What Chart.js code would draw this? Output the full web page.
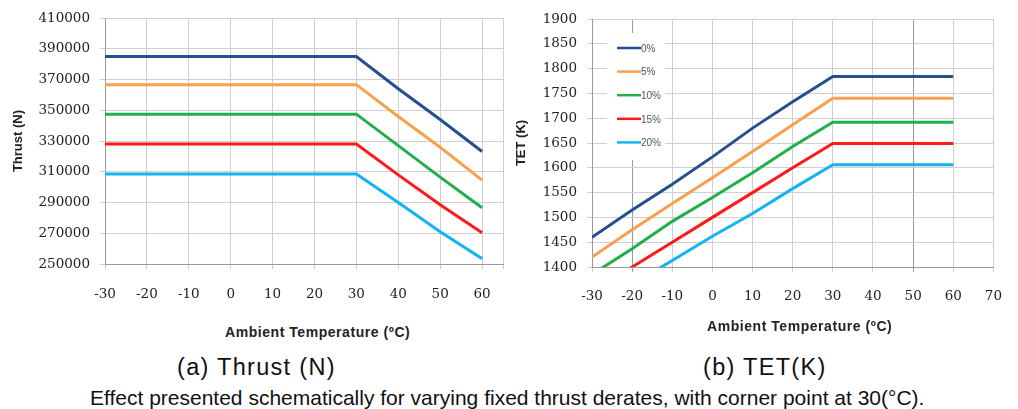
<!DOCTYPE html>
<html>
<head>
<meta charset="utf-8">
<script src="https://cdn.jsdelivr.net/npm/chart.js@4.4.1/dist/chart.umd.min.js"></script>
<style>
  body { margin: 0; background: #fff; width: 1018px; height: 409px; position: relative; overflow: hidden; font-family: "Liberation Sans", Arial, sans-serif; }
  canvas { position: absolute; top: 0; }
  #thrust { left: 0; }
  #tet { left: 510px; }
  .xt { position: absolute; font: bold 14px "Liberation Sans", Arial, sans-serif; letter-spacing: 0.55px; color: #222; white-space: nowrap; }
  .cap { position: absolute; top: 354px; font-size: 23.5px; letter-spacing: 1.3px; color: #111; white-space: nowrap; }
  #note { position: absolute; top: 386px; left: 90px; font-size: 21px; color: #111; white-space: nowrap; }
</style>
</head>
<body>
<canvas id="thrust" width="520" height="310"></canvas>
<canvas id="tet" width="508" height="310"></canvas>
<div class="xt" style="left:225px; top:324px">Ambient Temperature (ºC)</div>
<div class="xt" style="left:707px; top:318px">Ambient Temperature (ºC)</div>
<div class="cap" style="left:177px">(a) Thrust (N)</div>
<div class="cap" style="left:703px">(b) TET(K)</div>
<div id="note">Effect presented schematically for varying fixed thrust derates, with corner point at 30(°C).</div>
<script>
const temps = [-30, -20, -10, 0, 10, 20, 30, 40, 50, 60];
const derates = ["0%", "5%", "10%", "15%", "20%"];
const colors = ["#24508f", "#f9a04e", "#1fb04a", "#ff1a1a", "#14b4f0"];

// thrust (N), flat up to the 30 C corner point
const thrust0 = [385000, 385000, 385000, 385000, 385000, 385000, 385000, 364000, 344000, 323200];
const thrust5 = [366700, 366700, 366700, 366700, 366700, 366700, 366700, 346000, 326000, 304600];
const thrust10 = [347500, 347500, 347500, 347500, 347500, 347500, 347500, 327000, 306500, 286600];
const thrust15 = [328000, 328000, 328000, 328000, 328000, 328000, 328000, 308000, 288500, 270300];
const thrust20 = [308600, 308600, 308600, 308600, 308600, 308600, 308600, 290000, 271000, 253500];

// turbine entry temperature (K)
const tet0 = [1460, 1515, 1567, 1622, 1680, 1733, 1784, 1784, 1784, 1784];
const tet5 = [1420, 1475, 1528, 1580, 1633, 1687, 1740, 1740, 1740, 1740];
const tet10 = [1385, 1437, 1492, 1540, 1590, 1643, 1692, 1692, 1692, 1692];
const tet15 = [1350, 1400, 1450, 1500, 1550, 1600, 1649, 1649, 1649, 1649];
const tet20 = [1315, 1365, 1413, 1462, 1508, 1558, 1606, 1606, 1606, 1606];

const thrustTicks = [250000, 270000, 290000, 310000, 330000, 350000, 370000, 390000, 410000];
const thrustXTicks = [-30, -20, -10, 0, 10, 20, 30, 40, 50, 60, 65];
const tetTicks = [1400, 1450, 1500, 1550, 1600, 1650, 1700, 1750, 1800, 1850, 1900];
const tetXTicks = [-30, -20, -10, 0, 10, 20, 30, 40, 50, 60, 70];

const tickFont = { family: '"DejaVu Serif", serif', size: 13.5 };

function makeSets(series) {
  return series.map((s, i) => ({
    label: derates[i],
    data: temps.map((t, j) => ({ x: t, y: s[j] })),
    borderColor: colors[i],
    backgroundColor: colors[i],
    borderWidth: 3,
    pointRadius: 0,
    tension: 0,
  }));
}

function fixTicks(list) {
  return function (scale) {
    scale.ticks = list.map((v) => ({ value: v }));
  };
}

const legendBox = {
  id: "legendBox",
  afterDatasetsDraw(chart) {
    const ctx = chart.ctx;
    ctx.save();
    ctx.fillStyle = "#fff";
    ctx.fillRect(97, 33, 58, 127);
    ctx.font = '10px "Liberation Sans", Arial, sans-serif';
    ctx.textBaseline = "middle";
    chart.data.datasets.forEach((ds, i) => {
      const y = 48 + i * 23.6;
      ctx.strokeStyle = ds.borderColor;
      ctx.lineWidth = 2.5;
      ctx.beginPath();
      ctx.moveTo(107, y);
      ctx.lineTo(131, y);
      ctx.stroke();
      ctx.fillStyle = "#555";
      ctx.fillText(ds.label, 131, y + 1);
    });
    ctx.restore();
  },
};

new Chart(document.getElementById("thrust"), {
  type: "line",
  data: { datasets: makeSets([thrust0, thrust5, thrust10, thrust15, thrust20]) },
  options: {
    responsive: false,
    animation: false,
    layout: { autoPadding: false, padding: { top: 16, right: 10, bottom: 0, left: 0 } },
    plugins: { legend: { display: false }, tooltip: { enabled: false } },
    scales: {
      x: {
        type: "linear",
        min: -30,
        max: 65,
        afterBuildTicks: fixTicks(thrustXTicks),
        afterFit: (s) => { s.height = 46; },
        grid: { color: "#cfcfcf", tickLength: 5 },
        border: { color: "#9a9a9a" },
        ticks: {
          font: tickFont,
          color: "#222",
          padding: 17,
          maxRotation: 0,
          autoSkip: false,
          callback: (v) => (v > 60 ? "" : String(v)),
        },
      },
      y: {
        min: 250000,
        max: 410000,
        afterBuildTicks: fixTicks(thrustTicks),
        afterFit: (s) => { s.width = 105; },
        grid: { color: "#cfcfcf", tickLength: 5 },
        border: { color: "#9a9a9a" },
        ticks: { font: tickFont, color: "#222", padding: 10, callback: (v) => String(v) },
        title: {
          display: true,
          text: "Thrust (N)",
          font: { family: "Liberation Sans", size: 13, weight: "bold" },
          color: "#222",
          padding: { top: 11, bottom: 0 },
        },
      },
    },
  },
});

new Chart(document.getElementById("tet"), {
  type: "line",
  data: { datasets: makeSets([tet0, tet5, tet10, tet15, tet20]) },
  options: {
    responsive: false,
    animation: false,
    layout: { autoPadding: false, padding: { top: 19, right: 10, bottom: 0, left: 0 } },
    plugins: { legend: { display: false }, tooltip: { enabled: false } },
    scales: {
      x: {
        type: "linear",
        min: -30,
        max: 70,
        afterBuildTicks: fixTicks(tetXTicks),
        afterFit: (s) => { s.height = 43; },
        grid: {
          color: (c) => (c.tick && (c.tick.value === 50 || c.tick.value === -20) ? "#9a9a9a" : "#cfcfcf"),
          tickLength: 5,
        },
        border: { color: "#9a9a9a" },
        ticks: { font: tickFont, color: "#222", padding: 16, maxRotation: 0, autoSkip: false, callback: (v) => String(v) },
      },
      y: {
        min: 1400,
        max: 1900,
        afterBuildTicks: fixTicks(tetTicks),
        afterFit: (s) => { s.width = 82; },
        grid: { color: "#cfcfcf", tickLength: 5 },
        border: { color: "#9a9a9a" },
        ticks: { font: tickFont, color: "#222", padding: 10, callback: (v) => String(v) },
        title: {
          display: true,
          text: "TET (K)",
          font: { family: "Liberation Sans", size: 13, weight: "bold" },
          color: "#222",
          padding: { top: 4, bottom: 0 },
        },
      },
    },
  },
  plugins: [legendBox],
});
</script>
</body>
</html>
